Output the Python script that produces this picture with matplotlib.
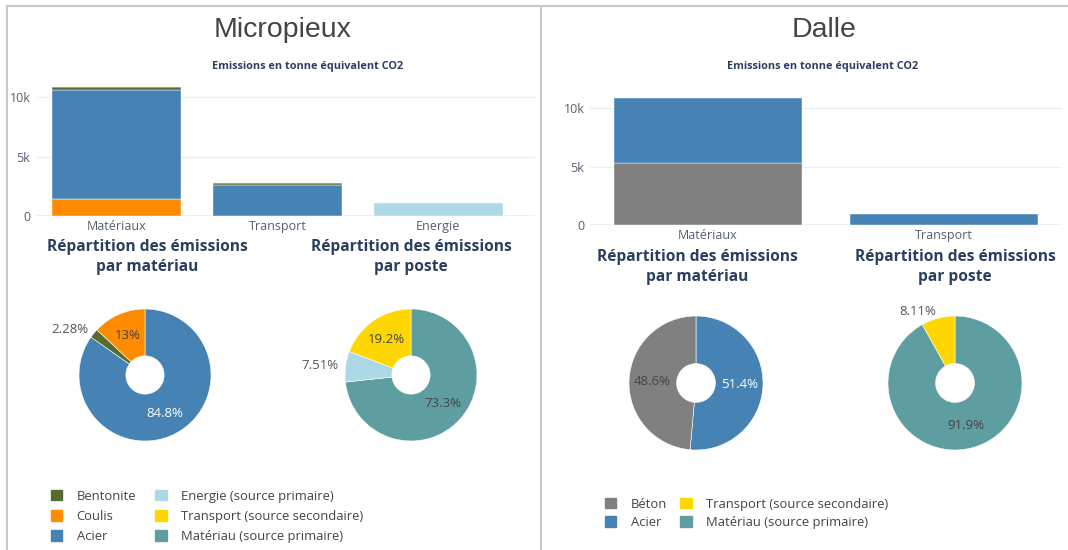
import numpy as np
import matplotlib
matplotlib.use('Agg')
import matplotlib.pyplot as plt
from matplotlib.patches import Patch
from matplotlib.lines import Line2D

plt.rcParams['font.family'] = ['Open Sans', 'DejaVu Sans']

# Couleurs
c_bentonite = '#556b2f'
c_coulis = '#ff8c00'
c_acier = '#4682b4'
c_energie = '#add8e6'
c_transport = '#ffd700'
c_materiau = '#5f9ea0'
c_beton = '#808080'

# Micropieux - barres (tonnes eq CO2)
micro_cats = ['Matériaux', 'Transport', 'Energie']
micro_coulis = [1430, 0, 0]
micro_acier = [9130, 2590, 0]
micro_bentonite = [250, 210, 0]
micro_energie = [0, 0, 1070]

# Micropieux - camemberts (%)
micro_mat_labels = ['Acier', 'Bentonite', 'Coulis']
micro_mat_pct = [84.8, 2.28, 13]
micro_poste_labels = ['Matériau (source primaire)', 'Energie (source primaire)', 'Transport (source secondaire)']
micro_poste_pct = [73.3, 7.51, 19.2]

# Dalle - barres
dalle_cats = ['Matériaux', 'Transport']
dalle_beton = [5310, 0]
dalle_acier = [5630, 950]

# Dalle - camemberts (%)
dalle_mat_labels = ['Acier', 'Béton']
dalle_mat_pct = [51.4, 48.6]
dalle_poste_labels = ['Matériau (source primaire)', 'Transport (source secondaire)']
dalle_poste_pct = [91.9, 8.11]

W, H = 1068, 550
fig = plt.figure(figsize=(W / 100, H / 100), dpi=100)


def add_ax(left, top, width, height):
    return fig.add_axes([left / W, 1 - (top + height) / H, width / W, height / H])


def style_bar_ax(ax, ymax):
    ax.set_ylim(0, ymax)
    for s in ax.spines.values():
        s.set_visible(False)
    ax.set_yticks([0, 5000, 10000])
    ax.set_yticklabels(['0', '5k', '10k'])
    ax.tick_params(length=0, colors='#555f6d', labelsize=9)
    ax.tick_params(axis='y', pad=4)
    ax.tick_params(axis='x', pad=3)
    ax.grid(axis='y', color='#ebf0f8', lw=1)
    ax.axhline(0, color='#ebf0f8', lw=2, zorder=0)
    ax.set_axisbelow(True)


def fmt(p):
    return ('%.3g' % p) + '%'


def draw_donut(ax, pct, colors, text_colors, outside):
    ax.pie(pct, colors=colors, startangle=90, counterclock=False,
           wedgeprops=dict(width=0.71, edgecolor='white', linewidth=0.4))
    ax.set_xlim(-1.5, 1.5)
    ax.set_ylim(-1.5, 1.5)
    ax.set_aspect('equal')
    ax.axis('off')
    cum = np.cumsum([0] + list(pct)) / sum(pct)
    for i, p in enumerate(pct):
        mid = np.deg2rad(90 - 360 * (cum[i] + cum[i + 1]) / 2)
        if outside[i]:
            r = 1.1
            ax.text(r * np.cos(mid), r * np.sin(mid), fmt(p), ha='right', va='center',
                    color='#555555', fontsize=9.5)
        else:
            r = 0.65
            ax.text(r * np.cos(mid), r * np.sin(mid), fmt(p), ha='center', va='center',
                    color=text_colors[i], fontsize=9.5)


# Cadres
fig.add_artist(Line2D([7 / W, 1], [1 - 6 / H] * 2, color='#c8c8c8', lw=1.5))
fig.add_artist(Line2D([7 / W] * 2, [0, 1 - 6 / H], color='#c8c8c8', lw=1.5))
fig.add_artist(Line2D([541 / W] * 2, [0, 1 - 6 / H], color='#c8c8c8', lw=1.5))

title_col = '#2a3f5f'

# ---------- Micropieux ----------
fig.text(283 / W, 1 - 30 / H, 'Micropieux', ha='center', va='center', fontsize=20.5,
         color='#444444', family=['Liberation Sans', 'DejaVu Sans'])
fig.text(308 / W, 1 - 66 / H, 'Emissions en tonne équivalent CO2', ha='center', va='center',
         fontsize=7.8, fontweight='bold', color=title_col)

ax1 = add_ax(36, 81, 499, 135)
x = np.arange(len(micro_cats))
b = np.zeros(len(x))
for vals, col in [(micro_coulis, c_coulis), (micro_acier, c_acier),
                  (micro_bentonite, c_bentonite), (micro_energie, c_energie)]:
    ax1.bar(x, vals, 0.8, bottom=b, color=col, edgecolor='white', linewidth=0.3)
    b += np.array(vals)
ax1.set_xticks(x)
ax1.set_xticklabels(micro_cats)
ax1.set_xlim(-0.5, 2.6)
style_bar_ax(ax1, 11350)

for cx, t in [(147, 'Répartition des émissions\npar matériau'), (411, 'Répartition des émissions\npar poste')]:
    fig.text(cx / W, 1 - 257 / H, t, ha='center', va='center', fontsize=11.2,
             fontweight='bold', color=title_col, linespacing=1.3)

r = 66
pa = add_ax(145 - 1.5 * r, 375 - 1.5 * r, 3 * r, 3 * r)
draw_donut(pa, micro_mat_pct, [c_acier, c_bentonite, c_coulis],
           ['white', '#444444', '#444444'], [False, True, False])
pb = add_ax(411 - 1.5 * r, 375 - 1.5 * r, 3 * r, 3 * r)
draw_donut(pb, micro_poste_pct, [c_materiau, c_energie, c_transport],
           ['#444444', '#444444', '#444444'], [False, True, False])

h1 = [Patch(color=c_bentonite, label='Bentonite'), Patch(color=c_coulis, label='Coulis'),
      Patch(color=c_acier, label='Acier'), Patch(color=c_energie, label='Energie (source primaire)'),
      Patch(color=c_transport, label='Transport (source secondaire)'),
      Patch(color=c_materiau, label='Matériau (source primaire)')]
leg1 = fig.legend(handles=h1, ncol=2, loc='upper left', bbox_to_anchor=(44 / W, 1 - 483 / H),
                  frameon=False, fontsize=9.4, handlelength=0.9, handleheight=0.9,
                  handletextpad=1.1, columnspacing=1.45, labelspacing=0.55, borderpad=0)
for t in leg1.get_texts():
    t.set_color('#444444')

# ---------- Dalle ----------
fig.text(824 / W, 1 - 30 / H, 'Dalle', ha='center', va='center', fontsize=20.5,
         color='#444444', family=['Liberation Sans', 'DejaVu Sans'])
fig.text(823 / W, 1 - 66 / H, 'Emissions en tonne équivalent CO2', ha='center', va='center',
         fontsize=7.8, fontweight='bold', color=title_col)

ax2 = add_ax(590, 91, 472, 134)
x2 = np.arange(len(dalle_cats))
b2 = np.zeros(len(x2))
for vals, col in [(dalle_beton, c_beton), (dalle_acier, c_acier)]:
    ax2.bar(x2, vals, 0.8, bottom=b2, color=col, edgecolor='white', linewidth=0.3)
    b2 += np.array(vals)
ax2.set_xticks(x2)
ax2.set_xticklabels(dalle_cats)
ax2.set_xlim(-0.5, 1.5)
style_bar_ax(ax2, 11500)

for cx, t in [(697, 'Répartition des émissions\npar matériau'), (955, 'Répartition des émissions\npar poste')]:
    fig.text(cx / W, 1 - 267 / H, t, ha='center', va='center', fontsize=11.2,
             fontweight='bold', color=title_col, linespacing=1.3)

r = 67
pc = add_ax(696 - 1.5 * r, 383 - 1.5 * r, 3 * r, 3 * r)
draw_donut(pc, dalle_mat_pct, [c_acier, c_beton], ['white', '#444444'], [False, False])
pd_ = add_ax(955 - 1.5 * r, 383 - 1.5 * r, 3 * r, 3 * r)
draw_donut(pd_, dalle_poste_pct, [c_materiau, c_transport], ['#444444', '#444444'], [False, True])

h2 = [Patch(color=c_beton, label='Béton'), Patch(color=c_acier, label='Acier'),
      Patch(color=c_transport, label='Transport (source secondaire)'),
      Patch(color=c_materiau, label='Matériau (source primaire)')]
leg2 = fig.legend(handles=h2, ncol=2, loc='upper left', bbox_to_anchor=(598 / W, 1 - 491 / H),
                  frameon=False, fontsize=9.4, handlelength=0.9, handleheight=0.9,
                  handletextpad=1.1, columnspacing=1.0, labelspacing=0.45, borderpad=0)
for t in leg2.get_texts():
    t.set_color('#444444')

fig.savefig('out.png', dpi=100, facecolor='white')
